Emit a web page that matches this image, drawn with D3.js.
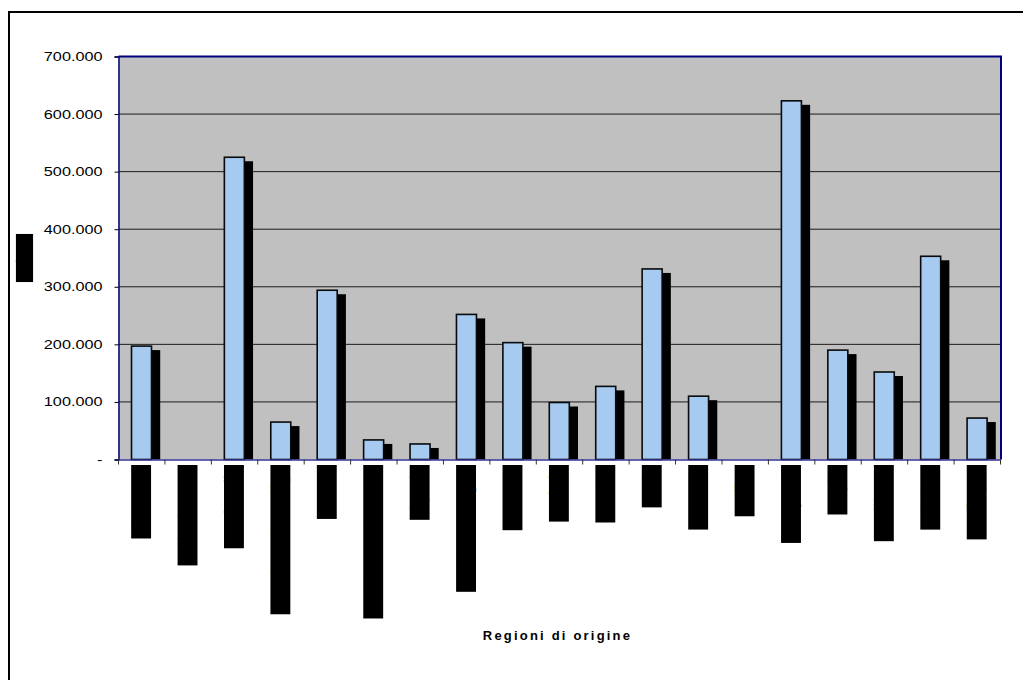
<!DOCTYPE html>
<html>
<head>
<meta charset="utf-8">
<script src="https://cdn.jsdelivr.net/npm/d3@7"></script>
<style>
  html, body { margin: 0; padding: 0; background: #fff; }
  svg { display: block; }
  text { font-family: Arial, "Liberation Sans", sans-serif; }
</style>
</head>
<body>
<svg id="chart" width="1023" height="680"></svg>
<script>
// Regions of origin and their totals
const categories = [
  "Piemonte", "Valle d'Aosta", "Lombardia", "Trentino-Alto Adige", "Veneto",
  "Friuli-Venezia Giulia", "Liguria", "Emilia-Romagna", "Toscana", "Umbria",
  "Marche", "Lazio", "Abruzzo", "Molise", "Campania", "Puglia", "Basilicata",
  "Calabria", "Sardegna"
];
const values = [
  197000, 0, 525000, 65000, 294000,
  34000, 27000, 252000, 203000, 99000,
  127000, 331000, 110000, 0, 623000, 190000, 152000,
  353000, 72000
];
const yTicks = [0, 100000, 200000, 300000, 400000, 500000, 600000, 700000];
const xTitle = "Regioni di origine";
const yTitle = "Valore";

const svg = d3.select("#chart");
const plot = { left: 118.5, right: 1000.5, top: 56.5, bottom: 459.5 };
const sx = 1.3;          // horizontal stretch of the chart text

const it = d3.formatLocale({ decimal: ",", thousands: ".", grouping: [3], currency: ["€", ""] });
const fmt = v => v === 0 ? "-" : it.format(",")(v);

const x = d3.scaleBand().domain(categories).range([plot.left, plot.right]).padding(0);
const y = d3.scaleLinear().domain([0, 700000]).range([plot.bottom, plot.top]);

// outer chart frame
svg.append("rect")
  .attr("x", 9).attr("y", 12).attr("width", 1200).attr("height", 900)
  .attr("fill", "none").attr("stroke", "#000").attr("stroke-width", 2);

// plot background
svg.append("rect")
  .attr("x", plot.left).attr("y", plot.top)
  .attr("width", plot.right - plot.left).attr("height", plot.bottom - plot.top)
  .attr("fill", "#C0C0C0");

// gridlines
svg.append("g").selectAll("line")
  .data(yTicks.filter(d => d > 0 && d < 700000))
  .join("line")
  .attr("x1", plot.left).attr("x2", plot.right)
  .attr("y1", d => y(d)).attr("y2", d => y(d))
  .attr("stroke", "#1a1a1a").attr("stroke-width", 1);

// plot border (top and right)
svg.append("path")
  .attr("d", `M${plot.left},${plot.top}H${plot.right + 0.5}V${plot.bottom}`)
  .attr("fill", "none").attr("stroke", "#000080").attr("stroke-width", 2);

// bars with drop shadow
const bw = 20;
const bars = svg.append("g");
const barX = d => x(d) + x.bandwidth() / 2 - bw / 2 - 0.2;
const data = categories.map((c, i) => ({ c, v: values[i] })).filter(d => d.v > 0);

bars.selectAll("rect.shadow")
  .data(data).join("rect").attr("class", "shadow")
  .attr("x", d => barX(d.c) + 8.7)
  .attr("y", d => y(d.v) + 4)
  .attr("width", bw)
  .attr("height", d => plot.bottom - y(d.v) - 4)
  .attr("fill", "#000");

bars.selectAll("rect.bar")
  .data(data).join("rect").attr("class", "bar")
  .attr("x", d => barX(d.c))
  .attr("y", d => y(d.v))
  .attr("width", bw)
  .attr("height", d => plot.bottom - y(d.v))
  .attr("fill", "#A6CAF0")
  .attr("stroke", "#0a0a0a").attr("stroke-width", 1.6);

// y axis
const yAxis = svg.append("g")
  .attr("transform", `translate(${plot.left},0)`)
  .call(d3.axisLeft(y).tickValues(yTicks).tickSize(4).tickFormat(fmt));
yAxis.select(".domain").attr("stroke", "#000080").attr("stroke-width", 1.5);
yAxis.selectAll(".tick line").attr("stroke", "#000");
yAxis.selectAll(".tick text")
  .attr("x", -16 / sx)
  .attr("transform", `scale(${sx},1)`)
  .attr("font-size", "12.5px")
  .attr("font-family", "Arial, 'Liberation Sans', sans-serif")
  .attr("fill", "#000");

// x axis baseline and category ticks
const xAxis = svg.append("g")
  .attr("transform", `translate(0,${plot.bottom})`)
  .call(d3.axisBottom(x).tickSize(0).tickFormat(""));
xAxis.select(".domain").attr("stroke", "#333399").attr("stroke-width", 1.5);
xAxis.append("g").selectAll("line")
  .data(categories.map(c => x(c)).concat([plot.right]))
  .join("line")
  .attr("x1", d => d).attr("x2", d => d)
  .attr("y1", 0).attr("y2", 5)
  .attr("stroke", "#333").attr("stroke-width", 1);

// rotated category labels, set solid
const lblFont = 16, lblAsc = 11.9, lblH = 15.3, lblTop = 466;
const labels = svg.append("g").selectAll("g")
  .data(categories).join("g")
  .attr("transform", d => `translate(${x(d) + x.bandwidth() / 2 - 0.6 + (lblAsc - lblH / 2) * sx},${lblTop}) scale(${sx},1) rotate(-90)`);
labels.append("rect").attr("class", "lblbg").attr("fill", "#000");
labels.append("text")
  .attr("text-anchor", "end")
  .attr("font-size", lblFont + "px")
  .attr("font-weight", "bold")
  .attr("fill", "#000")
  .text(d => d);
labels.each(function () {
  const g = d3.select(this);
  const len = g.select("text").node().getComputedTextLength();
  g.select("rect").attr("x", -len - 0.5).attr("y", -lblAsc).attr("width", len + 1.5).attr("height", lblH);
});

// y axis title, set solid
const tFont = 15.7, tAsc = 11.5, tH = 13.2;
const yt = svg.append("g")
  .attr("transform", `translate(${24.5 + (tAsc - tH / 2) * sx},258) scale(${sx},1) rotate(-90)`);
const ytRect = yt.append("rect").attr("fill", "#000");
const ytText = yt.append("text")
  .attr("text-anchor", "middle")
  .attr("font-size", tFont + "px")
  .attr("font-weight", "bold")
  .attr("fill", "#000")
  .text(yTitle);
const tLen = ytText.node().getComputedTextLength();
ytRect.attr("x", -tLen / 2 - 0.5).attr("y", -tAsc).attr("width", tLen + 1).attr("height", tH);

// x axis title
svg.append("text")
  .attr("x", (plot.left + plot.right) / 2 - 2)
  .attr("y", 640)
  .attr("text-anchor", "middle")
  .attr("font-size", "13px")
  .attr("font-weight", "bold")
  .attr("letter-spacing", "2.2px")
  .attr("fill", "#000")
  .text(xTitle);
</script>
</body>
</html>
